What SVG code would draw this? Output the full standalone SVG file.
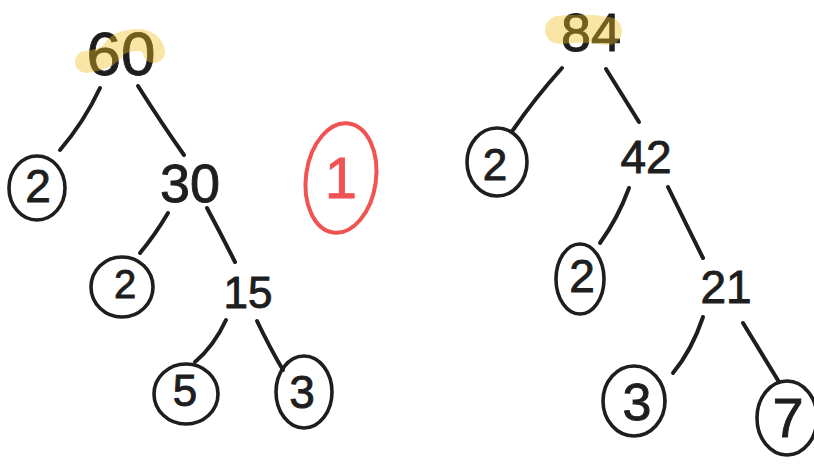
<svg xmlns="http://www.w3.org/2000/svg" width="814" height="466" viewBox="0 0 814 466">
<style>
.bg{fill:#ffffff}
.t{font-family:"Liberation Sans","DejaVu Sans",sans-serif;fill:#1e1e1e;stroke:#1e1e1e;stroke-width:0.9;text-anchor:middle}
.c{fill:none;stroke:#1e1e1e;stroke-width:3.6;stroke-linecap:round}
.e{fill:none;stroke:#1e1e1e;stroke-width:4;stroke-linecap:round;stroke-linejoin:round}
.hl{fill:none;stroke:#f0c020;stroke-opacity:0.4;stroke-linecap:round;stroke-linejoin:round}
.red{fill:none;stroke:#ef5353;stroke-width:4;stroke-linecap:round}
</style>
<rect class="bg" x="0" y="0" width="814" height="466"/>
<g id="connectors">
<path class="e" d="M100,88 Q84,122 60,150"/>
<path class="e" d="M138,86 Q162,124 184,155"/>
<path class="e" d="M168,213 Q155,235 140,253"/>
<path class="e" d="M207,208 Q222,236 235,262"/>
<path class="e" d="M226,320 Q214,346 195,362"/>
<path class="e" d="M257,321 Q270,348 283,370"/>
<path class="e" d="M562,68 Q535,98 513,130"/>
<path class="e" d="M606,69 Q624,98 639,122"/>
<path class="e" d="M629,188 Q618,218 600,243"/>
<path class="e" d="M668,187 Q686,224 703,258"/>
<path class="e" d="M703,317 Q692,350 673,373"/>
<path class="e" d="M743,323 Q762,354 779,382"/>
</g>
<g id="n60">
<text class="t" x="121" y="75" font-size="62">60</text>
<path class="hl" stroke-width="22" d="M86,62 Q104,60 112,52 Q118,40 140,40 Q152,42 154,52"/>
</g>
<g id="n2a">
<ellipse class="c" cx="37" cy="188" rx="28" ry="32"/>
<text class="t" x="38" y="202" font-size="46">2</text>
</g>
<g id="n30">
<text class="t" x="190" y="202" font-size="54">30</text>
</g>
<g id="n2b">
<ellipse class="c" cx="122" cy="287" rx="31" ry="30"/>
<text class="t" x="125" y="298" font-size="40">2</text>
</g>
<g id="n15">
<text class="t" x="248" y="308" font-size="44">15</text>
</g>
<g id="n5">
<ellipse class="c" cx="186" cy="394" rx="32" ry="30"/>
<text class="t" x="185" y="406" font-size="44">5</text>
</g>
<g id="n3a">
<ellipse class="c" cx="304" cy="392" rx="28" ry="36"/>
<text class="t" x="302" y="408" font-size="46">3</text>
</g>
<g id="n1">
<ellipse class="red" cx="341" cy="178" rx="35" ry="55" transform="rotate(8 341 178)"/>
<text class="t" x="341" y="198" font-size="58" style="fill:#ef5353;stroke:#ef5353">1</text>
</g>
<g id="n84">
<text class="t" x="591" y="51" font-size="54">84</text>
<path class="hl" stroke-width="28" d="M559,30 Q585,27 608,31"/>
</g>
<g id="n2c">
<ellipse class="c" cx="497" cy="162" rx="30" ry="34"/>
<text class="t" x="495" y="180" font-size="44">2</text>
</g>
<g id="n42">
<text class="t" x="646" y="173" font-size="46">42</text>
</g>
<g id="n2d">
<ellipse class="c" cx="580" cy="279" rx="24" ry="35"/>
<text class="t" x="582" y="292" font-size="46">2</text>
</g>
<g id="n21">
<text class="t" x="726" y="303" font-size="46">21</text>
</g>
<g id="n3b">
<ellipse class="c" cx="634" cy="401" rx="31" ry="35"/>
<text class="t" x="637" y="420" font-size="52">3</text>
</g>
<g id="n7">
<ellipse class="c" cx="787" cy="418" rx="30" ry="37"/>
<text class="t" x="788" y="437" font-size="56">7</text>
</g>
</svg>
